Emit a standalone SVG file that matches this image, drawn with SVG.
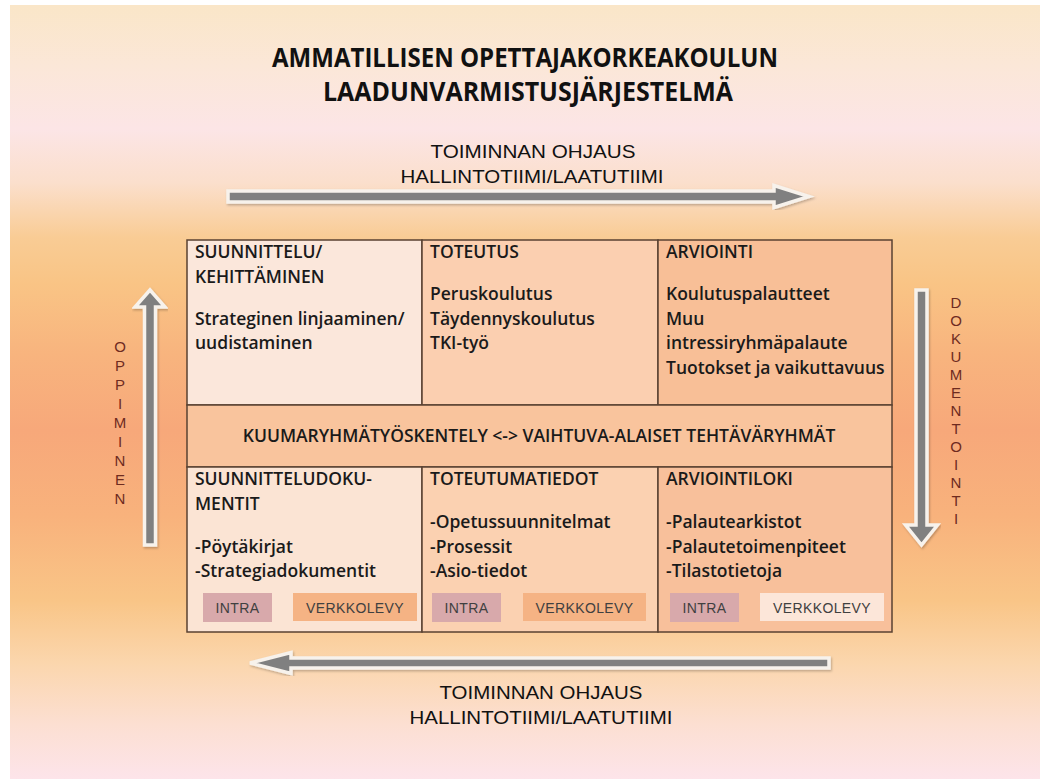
<svg xmlns="http://www.w3.org/2000/svg" width="1040" height="779" viewBox="0 0 1040 779">
<defs>
<linearGradient id="bg" gradientUnits="userSpaceOnUse" x1="0" y1="5" x2="0" y2="779">
<stop offset="0" stop-color="#fae6c8"/>
<stop offset="0.08" stop-color="#fbe7d8"/>
<stop offset="0.16" stop-color="#fce5e6"/>
<stop offset="0.23" stop-color="#fbdfcc"/>
<stop offset="0.30" stop-color="#f9cc95"/>
<stop offset="0.36" stop-color="#f9c485"/>
<stop offset="0.45" stop-color="#f8b47e"/>
<stop offset="0.55" stop-color="#f7a87a"/>
<stop offset="0.66" stop-color="#f8b27c"/>
<stop offset="0.77" stop-color="#f9c587"/>
<stop offset="0.85" stop-color="#fbd6ad"/>
<stop offset="0.93" stop-color="#fcdfd2"/>
<stop offset="1" stop-color="#fde4ea"/>
</linearGradient>
<filter id="sh" x="-10%" y="-10%" width="120%" height="120%">
<feDropShadow dx="1" dy="1.5" stdDeviation="1.2" flood-color="#000" flood-opacity="0.25"/>
</filter>
</defs>
<style>
.cell{stroke:#5a4232;stroke-width:1.5}
.t{font-family:"Open Sans","Liberation Sans",sans-serif;font-weight:600;font-size:17.5px;fill:#1a1a1a}
.title{font-family:"Open Sans","Liberation Sans",sans-serif;font-weight:700;font-size:26px;fill:#111}
.lab{font-family:"Liberation Sans",Arial,sans-serif;font-size:19px;fill:#111}
.btn{font-family:"Liberation Sans",Arial,sans-serif;font-size:14px;fill:#404040;letter-spacing:0.4px}
.vert{font-family:"Liberation Sans",Arial,sans-serif;font-size:15px;fill:#6e2b1f}
.arrow{fill:#808080;stroke:#f7f2ec;stroke-width:3.5;stroke-linejoin:miter;filter:url(#sh)}
.intra{fill:#d8a9ab}
.verk{fill:#f5b384}
.verk2{fill:#fce6d9}
</style>
<rect x="10" y="5" width="1030" height="774" fill="url(#bg)"/>

<g id="title">
<text class="title" x="525" y="67" text-anchor="middle" textLength="506" lengthAdjust="spacingAndGlyphs">AMMATILLISEN OPETTAJAKORKEAKOULUN</text>
<text class="title" x="528" y="101" text-anchor="middle" textLength="410" lengthAdjust="spacingAndGlyphs">LAADUNVARMISTUSJÄRJESTELMÄ</text>
</g>

<g id="label-top">
<text class="lab" x="533" y="158" text-anchor="middle" textLength="205" lengthAdjust="spacingAndGlyphs">TOIMINNAN OHJAUS</text>
<text class="lab" x="532" y="183" text-anchor="middle" textLength="263" lengthAdjust="spacingAndGlyphs">HALLINTOTIIMI/LAATUTIIMI</text>
</g>
<g id="label-bottom">
<text class="lab" x="541" y="699" text-anchor="middle" textLength="203" lengthAdjust="spacingAndGlyphs">TOIMINNAN OHJAUS</text>
<text class="lab" x="541" y="724" text-anchor="middle" textLength="263" lengthAdjust="spacingAndGlyphs">HALLINTOTIIMI/LAATUTIIMI</text>
</g>

<g id="label-left">
<text class="vert" text-anchor="middle"><tspan x="120" y="352">O</tspan><tspan x="120" y="371">P</tspan><tspan x="120" y="390">P</tspan><tspan x="120" y="409">I</tspan><tspan x="120" y="428">M</tspan><tspan x="120" y="447">I</tspan><tspan x="120" y="466">N</tspan><tspan x="120" y="485">E</tspan><tspan x="120" y="504">N</tspan></text>
</g>
<g id="label-right">
<text class="vert" text-anchor="middle" font-size="14"><tspan x="956" y="308">D</tspan><tspan x="956" y="326">O</tspan><tspan x="956" y="344">K</tspan><tspan x="956" y="362">U</tspan><tspan x="956" y="380">M</tspan><tspan x="956" y="398">E</tspan><tspan x="956" y="416">N</tspan><tspan x="956" y="434">T</tspan><tspan x="956" y="452">O</tspan><tspan x="956" y="470">I</tspan><tspan x="956" y="488">N</tspan><tspan x="956" y="506">T</tspan><tspan x="956" y="524">I</tspan></text>
</g>

<g id="connectors">
<polygon class="arrow" points="228,191 774,191 774,185.5 809,196.5 774,207.5 774,202 228,202"/>
<polygon class="arrow" points="829,658 291,658 291,652.5 250,663 291,673.5 291,668 829,668"/>
<polygon class="arrow" points="144.5,545 144.5,307 135,307 150,290 165,307 155.5,307 155.5,545"/>
<polygon class="arrow" points="916,290 927,290 927,525 937.5,525 921.5,545 905.5,525 916,525"/>
</g>

<g id="cell-suunnittelu">
<rect class="cell" x="187" y="240" width="235" height="165" fill="#fbe7db"/>
<text class="t" x="195" y="258">SUUNNITTELU/</text>
<text class="t" x="195" y="283">KEHITTÄMINEN</text>
<text class="t" x="195" y="325">Strateginen linjaaminen/</text>
<text class="t" x="195" y="349">uudistaminen</text>
</g>
<g id="cell-toteutus">
<rect class="cell" x="422" y="240" width="236" height="165" fill="#fbcfb0"/>
<text class="t" x="430" y="258">TOTEUTUS</text>
<text class="t" x="430" y="300">Peruskoulutus</text>
<text class="t" x="430" y="325">Täydennyskoulutus</text>
<text class="t" x="430" y="349">TKI-työ</text>
</g>
<g id="cell-arviointi">
<rect class="cell" x="658" y="240" width="234" height="165" fill="#f8bf97"/>
<text class="t" x="666" y="258">ARVIOINTI</text>
<text class="t" x="666" y="300">Koulutuspalautteet</text>
<text class="t" x="666" y="325">Muu</text>
<text class="t" x="666" y="349">intressiryhmäpalaute</text>
<text class="t" x="666" y="374">Tuotokset ja vaikuttavuus</text>
</g>
<g id="band">
<rect class="cell" x="187" y="405" width="705" height="62" fill="#f9c49d"/>
<text class="t" x="539" y="442" text-anchor="middle">KUUMARYHMÄTYÖSKENTELY &lt;-&gt; VAIHTUVA-ALAISET TEHTÄVÄRYHMÄT</text>
</g>
<g id="cell-suunnitteludokumentit">
<rect class="cell" x="187" y="467" width="235" height="165" fill="#fbe4d4"/>
<text class="t" x="195" y="485">SUUNNITTELUDOKU-</text>
<text class="t" x="195" y="510">MENTIT</text>
<text class="t" x="195" y="553">-Pöytäkirjat</text>
<text class="t" x="195" y="577">-Strategiadokumentit</text>
<rect class="intra" x="203" y="593" width="69" height="29"/>
<text class="btn" x="237.5" y="613" text-anchor="middle">INTRA</text>
<rect class="verk" x="293" y="593" width="124" height="28"/>
<text class="btn" x="355" y="613" text-anchor="middle">VERKKOLEVY</text>
</g>
<g id="cell-toteutumatiedot">
<rect class="cell" x="422" y="467" width="236" height="165" fill="#fbd1b1"/>
<text class="t" x="430" y="485">TOTEUTUMATIEDOT</text>
<text class="t" x="430" y="528">-Opetussuunnitelmat</text>
<text class="t" x="430" y="553">-Prosessit</text>
<text class="t" x="430" y="577">-Asio-tiedot</text>
<rect class="intra" x="432" y="593" width="69" height="29"/>
<text class="btn" x="466.5" y="613" text-anchor="middle">INTRA</text>
<rect class="verk" x="523" y="593" width="123" height="28"/>
<text class="btn" x="584.5" y="613" text-anchor="middle">VERKKOLEVY</text>
</g>
<g id="cell-arviointiloki">
<rect class="cell" x="658" y="467" width="234" height="165" fill="#f8c09b"/>
<text class="t" x="666" y="485">ARVIOINTILOKI</text>
<text class="t" x="666" y="528">-Palautearkistot</text>
<text class="t" x="666" y="553">-Palautetoimenpiteet</text>
<text class="t" x="666" y="577">-Tilastotietoja</text>
<rect class="intra" x="670" y="593" width="69" height="29"/>
<text class="btn" x="704.5" y="613" text-anchor="middle">INTRA</text>
<rect class="verk2" x="760" y="593" width="124" height="28"/>
<text class="btn" x="822" y="613" text-anchor="middle">VERKKOLEVY</text>
</g>
</svg>
